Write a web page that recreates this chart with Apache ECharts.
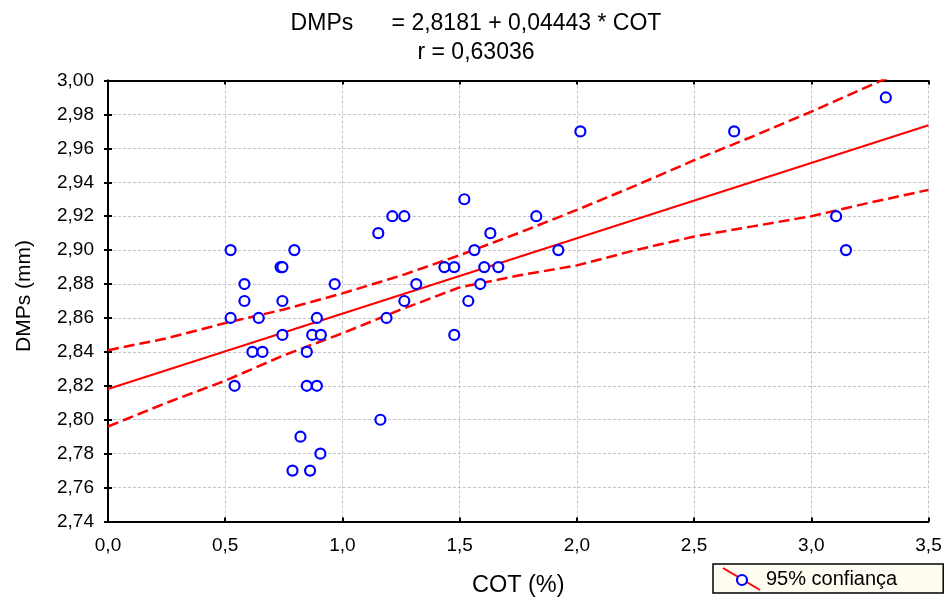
<!DOCTYPE html>
<html><head><meta charset="utf-8">
<script src="https://cdn.jsdelivr.net/npm/echarts@6/dist/echarts.min.js"></script>
<style>html,body{margin:0;padding:0;background:#fff}#c{width:946px;height:601px}</style>
</head><body><div id="c"></div>
<script>
// Observed data: COT (%) vs DMPs (mm)
const cotValues = [0.523,0.795,0.736,0.744,0.582,0.967,0.582,0.744,0.523,0.643,0.891,0.744,0.871,0.908,0.616,0.659,0.848,0.540,0.848,0.891,0.821,0.906,0.787,0.862,
  1.520,1.213,1.264,1.827,1.153,1.631,1.563,1.921,1.435,1.477,1.605,1.665,1.315,1.588,1.264,1.537,1.188,1.477,1.162,
  2.015,2.671,3.318,3.106,3.148];
const dmpsValues = [2.90,2.90,2.89,2.89,2.88,2.88,2.87,2.87,2.86,2.86,2.86,2.85,2.85,2.85,2.84,2.84,2.84,2.82,2.82,2.82,2.79,2.78,2.77,2.77,
  2.93,2.92,2.92,2.92,2.91,2.91,2.90,2.90,2.89,2.89,2.89,2.89,2.88,2.88,2.87,2.87,2.86,2.85,2.80,
  2.97,2.97,2.99,2.92,2.90];
// Regression line endpoints (DMPs = 2,8181 + 0,04443 * COT)
const fitX = [0, 3.5];
const fitY = [2.8181, 2.9736];
// 95% confidence band
const bandX = [0,0.25,0.5,0.75,1.0,1.25,1.5,1.75,2.0,2.25,2.5,2.75,3.0,3.25,3.5];
const bandUpper = [2.841,2.848,2.857,2.865,2.8745,2.885,2.897,2.910,2.9237,2.938,2.953,2.967,2.9816,2.997,3.012];
const bandLower = [2.796,2.810,2.823,2.838,2.851,2.865,2.878,2.885,2.891,2.900,2.908,2.914,2.920,2.928,2.9355];
const xTicks = [0,0.5,1.0,1.5,2.0,2.5,3.0,3.5];
const yTicks = [2.74,2.76,2.78,2.80,2.82,2.84,2.86,2.88,2.90,2.92,2.94,2.96,2.98,3.00];

const zip = (a,b) => a.map((v,i)=>[v,b[i]]);
const font = 'Liberation Sans, Arial, sans-serif';
const legendIcon = 'image://data:image/svg+xml;utf8,' + encodeURIComponent(
  '<svg xmlns="http://www.w3.org/2000/svg" width="40" height="24" viewBox="0 0 40 24"><line x1="2" y1="1" x2="39" y2="23" stroke="#ff0000" stroke-width="2"/><circle cx="21" cy="13" r="5" fill="#ffffff" stroke="#0000ff" stroke-width="2.2"/></svg>');

const chart = echarts.init(document.getElementById('c'));
const axisCommon = {
  type:'value', min:0, max:3.5, interval:0.5,
  axisLine:{show:true, lineStyle:{color:'#000', width:2}},
  axisTick:{show:true, inside:true, length:4, lineStyle:{color:'#000', width:2}},
};
chart.setOption({
  backgroundColor:'#fff',
  animation:false,
  title:{
    text:'DMPs      = 2,8181 + 0,04443 * COT\nr = 0,63036',
    left:471, top:4, textAlign:'center',
    textStyle:{fontFamily:font, fontSize:23, fontWeight:'normal', color:'#000', lineHeight:29}
  },
  grid:{left:108, top:80.5, right:17.5, bottom:79.5, containLabel:false, outerBoundsMode:'none'},
  legend:{
    data:[{name:'95% confiança', icon:legendIcon}],
    left:713, top:564,
    padding:[3,46,2,8],
    itemWidth:40, itemHeight:24, itemGap:4,
    backgroundColor:'#fffcf2', borderColor:'#000', borderWidth:1.5,
    textStyle:{fontFamily:font, fontSize:20, color:'#000'}
  },
  xAxis:[
    Object.assign({}, axisCommon, {
      position:'bottom', name:'COT (%)', nameLocation:'middle', nameGap:52,
      nameTextStyle:{fontFamily:font, fontSize:23.5, color:'#000'},
      axisLabel:{fontFamily:font, fontSize:19, color:'#000', margin:15,
        formatter:v=>v.toFixed(1).replace('.',',')},
      splitLine:{show:true, lineStyle:{color:'#c4c4c4', type:[3,2], width:1}}
    }),
    Object.assign({}, axisCommon, {position:'top', axisLabel:{show:false}, splitLine:{show:false}})
  ],
  yAxis:[
    {type:'value', min:2.74, max:3.00, interval:0.02, position:'left',
      name:'DMPs (mm)', nameLocation:'middle', nameGap:73, nameRotate:90,
      nameTextStyle:{fontFamily:font, fontSize:21, color:'#000', padding:[0,0,0,10]},
      axisLine:{show:true, lineStyle:{color:'#000', width:2}},
      axisTick:{show:true, inside:true, length:4, lineStyle:{color:'#000', width:2}},
      axisLabel:{fontFamily:font, fontSize:19, color:'#000', margin:14,
        formatter:v=>v.toFixed(2).replace('.',',')},
      splitLine:{show:true, lineStyle:{color:'#c4c4c4', type:[3,2], width:1}}
    },
    {type:'value', min:2.74, max:3.00, interval:0.02, position:'right',
      axisLine:{show:true, lineStyle:{color:'#000', width:2}},
      axisTick:{show:true, inside:true, length:4, lineStyle:{color:'#000', width:2}},
      axisLabel:{show:false}, splitLine:{show:false}
    }
  ],
  series:[
    {type:'line', name:'fit', data:zip(fitX,fitY), symbol:'none', clip:true,
      lineStyle:{color:'#ff0000', width:2}, z:3},
    {type:'line', name:'upper', data:zip(bandX,bandUpper), symbol:'none', clip:true,
      lineStyle:{color:'#ff0000', width:2.5, type:[11,5]}, z:3},
    {type:'line', name:'lower', data:zip(bandX,bandLower), symbol:'none', clip:true,
      lineStyle:{color:'#ff0000', width:2.5, type:[11,5]}, z:3},
    {type:'scatter', name:'95% confiança', data:zip(cotValues,dmpsValues),
      symbol:'circle', symbolSize:10,
      itemStyle:{color:'#ffffff', borderColor:'#0000ff', borderWidth:2.2, opacity:1}, z:4}
  ]
});
</script></body></html>
